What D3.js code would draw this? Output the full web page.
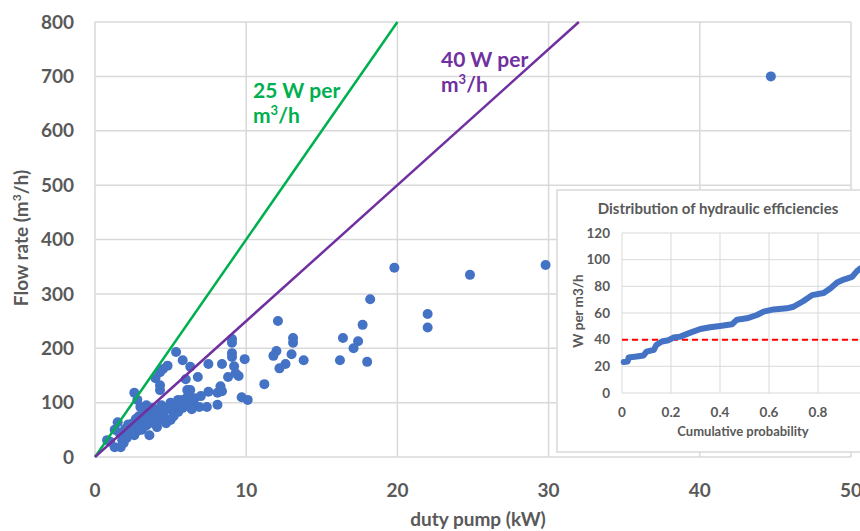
<!DOCTYPE html>
<html lang="en">
<head>
  <meta charset="UTF-8">
  <title>Flow rate vs duty pump</title>
  <script src="https://d3js.org/d3.v7.min.js"></script>
  <style>
    body { margin: 0; background: #fff; overflow: hidden; }
    svg { display: block; font-family: Lato, "Open Sans", sans-serif; }
    .tick-label { fill: #595959; font-weight: bold; }
  </style>
</head>
<body>
  <svg id="chart" width="860" height="531"></svg>

  <script>
    // ---- data ----
    // duty pump (kW), flow rate (m3/h)
    const pumpKW = [
      44.7, 19.8, 24.8, 29.8, 22.0, 22.0,
      18.2, 12.1, 17.7, 9.06, 9.06, 13.1, 13.1, 16.4, 17.4, 17.1, 12.0, 11.8, 13.0, 13.8,
      16.2, 18.0, 12.6, 12.2, 11.2, 9.9, 9.06, 9.06, 9.2, 8.4, 7.5, 6.3, 5.8, 8.8, 9.5,
      9.3, 6.8, 6.0, 8.3, 8.4, 8.1, 7.5, 9.7, 10.1, 8.1, 6.1, 6.3, 6.1, 6.9, 7.4, 6.5, 5.8,
      5.36, 4.8, 4.5, 4.3, 4.0, 4.3, 4.3, 2.6, 2.8, 5.5, 5.0, 4.3, 3.6, 2.6, 2.1, 1.5, 1.3,
      1.0, 0.8, 1.3, 1.7, 1.9, 2.0, 1.8,
      2.3, 2.5, 2.7, 2.9, 3.0, 3.2, 3.3, 3.5, 3.6, 3.8, 3.9, 4.0, 4.2, 4.4, 4.5, 4.6, 4.8,
      5.0, 5.1, 5.3, 5.5, 5.6, 5.9, 3.1, 2.8, 3.4, 4.1, 2.4, 3.7, 4.7, 5.2, 5.8, 6.2, 6.6,
      7.0, 6.4, 2.2, 2.0, 1.6, 3.0, 3.4
    ];
    const flowRate = [
      700, 348, 335, 353, 263, 238,
      290, 250, 243, 217, 210, 219, 210, 219, 213, 200, 195, 186, 189, 178,
      178, 175, 171, 163, 134, 180, 191, 184, 167, 171, 171, 166, 178, 147, 149,
      154, 147, 143, 130, 121, 118, 120, 110, 105, 96, 123, 123, 110, 92, 92, 101, 105,
      193, 168, 162, 156, 145, 132, 123, 118, 105, 83, 68, 68, 40, 40, 35, 64, 50,
      28, 31, 18, 18, 26, 37, 31,
      55, 62, 70, 75, 60, 80, 68, 85, 72, 90, 78, 65, 88, 95, 80, 72, 90,
      100, 85, 95, 105, 92, 98, 50, 48, 58, 55, 45, 63, 62, 75, 90, 95, 108,
      112, 88, 60, 52, 45, 92, 95
    ];

    // reference lines, W per m3/h
    const efficiencyLines = [25, 40];
    const lineColors = ["#00b050", "#7030a0"];

    const xTicks = [0, 10, 20, 30, 40, 50];
    const yTicks = [0, 100, 200, 300, 400, 500, 600, 700, 800];

    // inset: cumulative probability vs W per m3/h
    const cumProb = [
      0.007, 0.023, 0.027, 0.06, 0.088, 0.10, 0.13, 0.14, 0.163, 0.19, 0.21, 0.238,
      0.279, 0.32, 0.36, 0.40, 0.449, 0.469, 0.51, 0.551, 0.578, 0.619, 0.673, 0.70,
      0.741, 0.776, 0.823, 0.85, 0.878, 0.905, 0.939, 0.959, 0.973, 1.0
    ];
    const wPerM3h = [
      23.2, 23.6, 26.6, 27.4, 28.1, 31.0, 32.4, 36.0, 38.6, 39.6, 41.6, 42.3,
      45.3, 48.0, 49.3, 50.3, 51.5, 55.0, 56.0, 58.5, 61.0, 62.7, 63.5, 64.7,
      69.0, 73.4, 75.0, 78.4, 82.9, 85.1, 87.1, 91.4, 93.4, 95.0
    ];
    const insetThreshold = 40;
    const insetXTicks = [0, 0.2, 0.4, 0.6, 0.8, 1.0];
    const insetYTicks = [0, 20, 40, 60, 80, 100, 120];

    const svg = d3.select("#chart");
    const gridColor = "#d9d9d9";

    // ---- main chart ----
    const x = d3.scaleLinear().domain([0, 50]).range([95, 851]);
    const y = d3.scaleLinear().domain([0, 800]).range([457, 22]);

    const main = svg.append("g");

    // gridlines
    main.selectAll(".hgrid")
      .data(yTicks)
      .enter().append("line")
      .attr("x1", x(0)).attr("x2", x(50))
      .attr("y1", d => y(d)).attr("y2", d => y(d))
      .attr("stroke", gridColor).attr("stroke-width", 1.5);

    main.selectAll(".vgrid")
      .data(xTicks)
      .enter().append("line")
      .attr("x1", d => x(d)).attr("x2", d => x(d))
      .attr("y1", y(0)).attr("y2", y(800))
      .attr("stroke", gridColor).attr("stroke-width", 1.5);

    // tick labels
    main.selectAll(".ylab")
      .data(yTicks)
      .enter().append("text")
      .attr("class", "tick-label")
      .attr("x", 74).attr("y", d => y(d))
      .attr("dy", "0.35em")
      .attr("text-anchor", "end")
      .attr("font-size", 19)
      .text(d => d);

    main.selectAll(".xlab")
      .data(xTicks)
      .enter().append("text")
      .attr("class", "tick-label")
      .attr("x", d => x(d)).attr("y", 490)
      .attr("dy", "0.35em")
      .attr("text-anchor", "middle")
      .attr("font-size", 19)
      .text(d => d);

    // axis titles
    main.append("text")
      .attr("class", "tick-label")
      .attr("transform", "translate(28,238) rotate(-90)")
      .attr("text-anchor", "middle")
      .attr("font-size", 19)
      .html('Flow rate (m<tspan baseline-shift="super" font-size="12">3</tspan>/h)');

    main.append("text")
      .attr("class", "tick-label")
      .attr("x", 478).attr("y", 526)
      .attr("text-anchor", "middle")
      .attr("font-size", 19)
      .text("duty pump (kW)");

    // scatter points
    main.selectAll(".dot")
      .data(pumpKW.map((p, i) => ({ p: p, q: flowRate[i] })))
      .enter().append("circle")
      .attr("cx", d => x(d.p))
      .attr("cy", d => y(d.q))
      .attr("r", 5)
      .attr("fill", "#4472c4");

    // W per m3/h lines: flow = 1000 * kW / W
    efficiencyLines.forEach((w, i) => {
      const pEnd = 800 * w / 1000;
      main.append("line")
        .attr("x1", x(0)).attr("y1", y(0))
        .attr("x2", x(pEnd)).attr("y2", y(800))
        .attr("stroke", lineColors[i])
        .attr("stroke-width", 2.5);
    });

    // line labels
    const labelPos = [[253, 98, 123], [441, 67, 92]];
    efficiencyLines.forEach((w, i) => {
      const t = main.append("text")
        .attr("fill", lineColors[i])
        .attr("font-weight", "bold")
        .attr("font-size", 21);
      t.append("tspan").attr("x", labelPos[i][0]).attr("y", labelPos[i][1]).text(w + " W per");
      const t2 = t.append("tspan").attr("x", labelPos[i][0]).attr("y", labelPos[i][2]);
      t2.append("tspan").text("m");
      t2.append("tspan").attr("baseline-shift", "super").attr("font-size", 13).text("3");
      t2.append("tspan").text("/h");
    });

    // ---- inset chart ----
    const inset = svg.append("g");
    inset.append("rect")
      .attr("x", 557).attr("y", 190)
      .attr("width", 330).attr("height", 262)
      .attr("fill", "#fff")
      .attr("stroke", gridColor).attr("stroke-width", 1.5);

    const ix = d3.scaleLinear().domain([0, 1]).range([622, 867]);
    const iy = d3.scaleLinear().domain([0, 120]).range([393, 233]);

    inset.selectAll(".ihgrid")
      .data(insetYTicks)
      .enter().append("line")
      .attr("x1", ix(0)).attr("x2", ix(1))
      .attr("y1", d => iy(d)).attr("y2", d => iy(d))
      .attr("stroke", gridColor).attr("stroke-width", 1);

    inset.selectAll(".ivgrid")
      .data(insetXTicks)
      .enter().append("line")
      .attr("x1", d => ix(d)).attr("x2", d => ix(d))
      .attr("y1", iy(0)).attr("y2", iy(120))
      .attr("stroke", gridColor).attr("stroke-width", 1);

    inset.selectAll(".iylab")
      .data(insetYTicks)
      .enter().append("text")
      .attr("class", "tick-label")
      .attr("x", 610).attr("y", d => iy(d))
      .attr("dy", "0.35em")
      .attr("text-anchor", "end")
      .attr("font-size", 13.5)
      .text(d => d);

    inset.selectAll(".ixlab")
      .data(insetXTicks)
      .enter().append("text")
      .attr("class", "tick-label")
      .attr("x", d => ix(d)).attr("y", 412)
      .attr("dy", "0.35em")
      .attr("text-anchor", "middle")
      .attr("font-size", 13.5)
      .text(d => d);

    inset.append("text")
      .attr("class", "tick-label")
      .attr("x", 718).attr("y", 214)
      .attr("text-anchor", "middle")
      .attr("font-size", 15)
      .text("Distribution of hydraulic efficiencies");

    inset.append("text")
      .attr("class", "tick-label")
      .attr("x", 743).attr("y", 436)
      .attr("text-anchor", "middle")
      .attr("font-size", 13)
      .text("Cumulative probability");

    inset.append("text")
      .attr("class", "tick-label")
      .attr("transform", "translate(583,311) rotate(-90)")
      .attr("text-anchor", "middle")
      .attr("font-size", 13.5)
      .text("W per m3/h");

    // threshold
    inset.append("line")
      .attr("x1", ix(0)).attr("x2", ix(1))
      .attr("y1", iy(insetThreshold)).attr("y2", iy(insetThreshold))
      .attr("stroke", "#ff0000")
      .attr("stroke-width", 2)
      .attr("stroke-dasharray", "6,4");

    const curve = cumProb.map((p, i) => [p, wPerM3h[i]]);
    inset.append("path")
      .datum(curve)
      .attr("fill", "none")
      .attr("stroke", "#4472c4")
      .attr("stroke-width", 6)
      .attr("stroke-linejoin", "round")
      .attr("stroke-linecap", "round")
      .attr("d", d3.line().x(d => ix(d[0])).y(d => iy(d[1])));
  </script>
</body>
</html>
